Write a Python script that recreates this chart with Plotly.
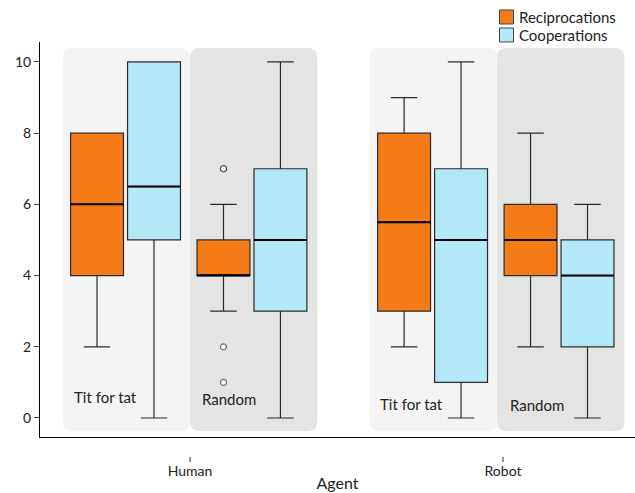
import plotly.graph_objects as go

# ---------------- data ----------------
agents = ["Human", "Robot"]
strategies = ["Tit for tat", "Random"]
series_names = ["Reciprocations", "Cooperations"]

# order of boxes within each series: Human-TfT, Human-Random, Robot-TfT, Robot-Random
recip_low = [2, 3, 2, 2]
recip_q1 = [4, 4, 3, 4]
recip_med = [6, 4, 5.5, 5]
recip_q3 = [8, 5, 8, 6]
recip_high = [8, 6, 9, 8]
recip_outliers = [[], [7, 7, 7, 2, 1], [], []]

coop_low = [0, 0, 0, 0]
coop_q1 = [5, 3, 1, 2]
coop_med = [6.5, 5, 5, 4]
coop_q3 = [10, 7, 7, 5]
coop_high = [10, 10, 10, 6]
coop_outliers = [[], [], [], []]

y_ticks = [0, 2, 4, 6, 8, 10]

# ---------------- layout constants ----------------
ORANGE = "#f47b17"
CYAN = "#b3e9f6"
PANEL_COLORS = ["#f4f4f4", "#e4e4e4"]
group_center = [1.0, 1.981]           # horizontal centre of each agent group
tick_pos = [1, 2]
offsets = {"recip": [-0.297, 0.107], "coop": [-0.115, 0.289]}  # per strategy
BOX_W = 0.169
PANEL_HALF = 0.407
PANEL_Y = (-0.37, 10.39)
RX, RY = 0.032, 0.28
label_pos = [[(0.623, 0.58), (1.032, 0.52)], [(1.60, 0.40), (2.016, 0.36)]]

W, H = 635, 493
ML, MR, MT, MB = 40, 0, 42, 36
PW, PH = W - ML - MR, H - MT - MB


def px_to_paper(px, py):
    return (px - ML) / PW, (H - MB - py) / PH


def positions(kind):
    xs = []
    for g in range(len(agents)):
        for s in range(len(strategies)):
            xs.append(group_center[g] + offsets[kind][s])
    return xs


fig = go.Figure()

# background panels
shapes = []
for g in range(len(agents)):
    for s in range(len(strategies)):
        x0 = group_center[g] - PANEL_HALF + s * PANEL_HALF
        x1 = x0 + PANEL_HALF
        y0, y1 = PANEL_Y
        path = (f"M {x0+RX},{y0} L {x1-RX},{y0} Q {x1},{y0} {x1},{y0+RY} "
                f"L {x1},{y1-RY} Q {x1},{y1} {x1-RX},{y1} L {x0+RX},{y1} "
                f"Q {x0},{y1} {x0},{y1-RY} L {x0},{y0+RY} Q {x0},{y0} {x0+RX},{y0} Z")
        shapes.append(dict(type="path", path=path, xref="x", yref="y",
                           fillcolor=PANEL_COLORS[s], line=dict(width=0), layer="below"))

# small detached category ticks above the agent labels
for t in tick_pos:
    _, ty0 = px_to_paper(0, 457)
    _, ty1 = px_to_paper(0, 462)
    shapes.append(dict(type="line", xref="x", yref="paper", x0=t, x1=t, y0=ty0, y1=ty1,
                       line=dict(color="#333", width=1)))

series = [
    ("recip", series_names[0], ORANGE, recip_low, recip_q1, recip_med, recip_q3, recip_high, recip_outliers),
    ("coop", series_names[1], CYAN, coop_low, coop_q1, coop_med, coop_q3, coop_high, coop_outliers),
]

annotations = []
for i, (kind, name, color, lo, q1, med, q3, hi, outl) in enumerate(series):
    xs = positions(kind)
    fig.add_trace(go.Box(
        x=xs, q1=q1, median=med, q3=q3, lowerfence=lo, upperfence=hi,
        width=BOX_W, whiskerwidth=0.5, fillcolor=color,
        line=dict(color="#2a2a2a", width=1.2), name=name, showlegend=False,
        boxpoints=False, hoverinfo="skip"))
    # thicker median lines
    mx, my = [], []
    for x, m in zip(xs, med):
        mx += [x - BOX_W / 2, x + BOX_W / 2, None]
        my += [m, m, None]
    fig.add_trace(go.Scatter(x=mx, y=my, mode="lines", line=dict(color="black", width=2),
                             showlegend=False, hoverinfo="skip"))
    # outliers
    ox, oy = [], []
    for x, pts in zip(xs, outl):
        for p in pts:
            ox.append(x)
            oy.append(p)
    if ox:
        fig.add_trace(go.Scatter(x=ox, y=oy, mode="markers",
                                 marker=dict(symbol="circle", size=6, color="white",
                                             line=dict(color="rgba(0,0,0,0.55)", width=1.2)),
                                 showlegend=False, hoverinfo="skip"))
    # legend entry (drawn in paper coordinates)
    cy = 17 + 18 * i
    sx0, sy0 = px_to_paper(499.5, cy - 7)
    sx1, sy1 = px_to_paper(513.5, cy + 7)
    shapes.append(dict(type="rect", xref="paper", yref="paper", x0=sx0, x1=sx1,
                       y0=sy1, y1=sy0, fillcolor=color, line=dict(color="#444", width=1)))
    tx, ty = px_to_paper(517, cy)
    annotations.append(dict(x=tx, y=ty, xref="paper", yref="paper", text=name,
                            showarrow=False, xanchor="left", yanchor="middle",
                            font=dict(size=15, color="#222")))

# invisible trace for the tick-label axis
fig.add_trace(go.Scatter(x=[None], y=[None], xaxis="x2", yaxis="y", showlegend=False))

for g in range(len(agents)):
    for s in range(len(strategies)):
        lx, ly = label_pos[g][s]
        annotations.append(dict(x=lx, y=ly, xref="x", yref="y", text=strategies[s],
                                showarrow=False, xanchor="left", yanchor="middle",
                                font=dict(size=15, color="#222")))

XR = [0.5208, 2.4217]
fig.update_layout(
    width=W, height=H,
    margin=dict(l=ML, r=MR, t=MT, b=MB),
    paper_bgcolor="white", plot_bgcolor="white",
    font=dict(family="Lato, Open Sans, sans-serif", size=14, color="#222"),
    shapes=shapes, annotations=annotations,
    boxmode="overlay", showlegend=False,
    xaxis=dict(range=XR, showline=True, linecolor="black", linewidth=1,
               showticklabels=False, ticks="", showgrid=False, zeroline=False,
               anchor="y", automargin=False),
    xaxis2=dict(range=XR, overlaying="x", anchor="free", position=0, side="bottom",
                showline=False, showgrid=False, zeroline=False, automargin=False,
                tickvals=tick_pos, ticktext=agents, ticks="outside", ticklen=5,
                ticklabelstandoff=-4, tickwidth=1,
                tickcolor="rgba(0,0,0,0)", tickfont=dict(size=14),
                title=dict(text="Agent", font=dict(size=16), standoff=0)),
    yaxis=dict(range=[-0.534, 10.56], domain=[(457 - 437) / PH, 1], showline=True,
               linecolor="black", linewidth=1, ticks="outside", ticklen=5,
               tickvals=y_ticks, showgrid=False, zeroline=False, automargin=False,
               tickfont=dict(size=14)),
)

fig.write_html("out.html", post_script="document.body.style.margin='0';",
               config={"displayModeBar": False})
